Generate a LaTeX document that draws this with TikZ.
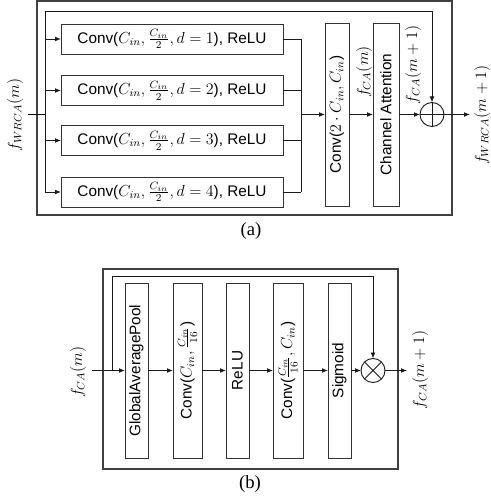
\documentclass[tikz,border=0pt]{standalone}
\usepackage[no-math]{fontspec}
\setmainfont{Liberation Serif}
\newfontfamily\boxfont{Liberation Sans}
\usetikzlibrary{arrows.meta}
\begin{document}
\begin{tikzpicture}[x=0.75pt,y=-0.75pt,
  every node/.style={inner sep=0pt,outer sep=0pt},
  ln/.style={line width=0.65pt,draw=black!90},
  arr/.style={ln,-{Latex[length=4.5pt,width=3.6pt]}},
  frame/.style={line width=0.8pt,draw=black!75},
  blk/.style={draw=black!80,line width=0.7pt,font=\boxfont\fontsize{11.5}{13}\selectfont},
  hblk/.style={blk,minimum width=0.75pt*222,minimum height=0.75pt*30},
  sig/.style={font=\fontsize{12}{14}\selectfont,rotate=90},
  opnode/.style={circle,draw=black!90,line width=0.7pt,minimum size=0.75pt*24},
  subcap/.style={font=\fontsize{14}{16}\selectfont}
]
\useasboundingbox (0,0) rectangle (491,502);

% ---------------- (a) ----------------
\draw[frame] (37,1) rectangle (452,215);

\node[hblk] (c1) at (172,39)    {Conv($C_{in}, \frac{C_{in}}{2}, d=1$), ReLU};
\node[hblk] (c2) at (172,90.5)  {Conv($C_{in}, \frac{C_{in}}{2}, d=2$), ReLU};
\node[hblk] (c3) at (172,140.5) {Conv($C_{in}, \frac{C_{in}}{2}, d=3$), ReLU};
\node[hblk] (c4) at (172,192)   {Conv($C_{in}, \frac{C_{in}}{2}, d=4$), ReLU};

\node[blk,minimum width=0.75pt*24,minimum height=0.75pt*183] (cv) at (337,114.5)
  {\rotatebox{90}{Conv($2\cdot C_{in}, C_{in}$)}};
\node[blk,minimum width=0.75pt*26,minimum height=0.75pt*183] (ca) at (386,114.5)
  {\rotatebox{90}{Channel Attention}};
\node[opnode] (sum) at (432,114.5) {};
\draw[ln] (sum.north) -- (sum.south) (sum.west) -- (sum.east);

\coordinate (inA) at (28,114.5);
\coordinate (ja) at (45,114.5);
\coordinate (topA) at (45,11);
\coordinate (jb) at (301,114.5);
\coordinate (outA) at (470,114.5);

\node[sig] (lin) at (15,115) {$f_{WRCA}(m)$};
\node[sig] (lout) at (482,115) {$f_{WRCA}(m+1)$};
\node[sig] (lca) at (364,72) {$f_{CA}(m)$};
\node[sig] (lca1) at (413,65) {$f_{CA}(m+1)$};

\draw[line width=1.4pt] (inA) -- (ja);
\draw[ln] (ja |- c1.west) -- (ja |- c4.west);
\foreach \b in {c1,c2,c3,c4} \draw[arr] (ja |- \b.west) -- (\b.west);
\foreach \b in {c1,c2,c3,c4} \draw[ln] (\b.east) -- (jb |- \b.east);
\draw[ln] (jb |- c1.east) -- (jb |- c4.east);
\draw[arr] (jb) -- (cv.west);
\draw[arr] (cv.east) -- (ca.west);
\draw[arr] (ca.east) -- (sum.west);
\draw[arr] (sum.east) -- (outA);
\draw[arr] (ja) -- (topA) -- (topA -| sum.north) -- (sum.north);

\node[subcap] (capa) at (251,231) {(a)};

% ---------------- (b) ----------------
\draw[frame] (103,269) rectangle (398,469);

\node[blk,minimum width=0.75pt*23,minimum height=0.75pt*175] (gap) at (136.5,370.5)
  {\rotatebox{90}{GlobalAveragePool}};
\node[blk,minimum width=0.75pt*29,minimum height=0.75pt*175] (cd) at (187.5,370.5)
  {\rotatebox{90}{Conv($C_{in}, \frac{C_{in}}{16}$)}};
\node[blk,minimum width=0.75pt*23,minimum height=0.75pt*175] (rl) at (237.5,370.5)
  {\rotatebox{90}{ReLU}};
\node[blk,minimum width=0.75pt*30,minimum height=0.75pt*175] (cu) at (288,370.5)
  {\rotatebox{90}{Conv($\frac{C_{in}}{16}, C_{in}$)}};
\node[blk,minimum width=0.75pt*23,minimum height=0.75pt*175] (sg) at (339.5,370.5)
  {\rotatebox{90}{Sigmoid}};
\node[opnode] (mul) at (373,370.5) {};
\draw[ln] (mul.north west) -- (mul.south east) (mul.north east) -- (mul.south west);

\coordinate (inB) at (92,370.5);
\coordinate (jc) at (112,370.5);
\coordinate (topB) at (112,276);
\coordinate (outB) at (407,370.5);

\node[sig] (lbin) at (78,372) {$f_{CA}(m)$};
\node[sig] (lbout) at (420,370) {$f_{CA}(m+1)$};

\draw[arr] (inB) -- (gap.west);
\draw[arr] (gap.east) -- (cd.west);
\draw[arr] (cd.east) -- (rl.west);
\draw[arr] (rl.east) -- (cu.west);
\draw[arr] (cu.east) -- (sg.west);
\draw[arr] (sg.east) -- (mul.west);
\draw[arr] (mul.east) -- (outB);
\draw[arr] (jc) -- (topB) -- (topB -| mul.north) -- (mul.north);

\node[subcap] (capb) at (250,484) {(b)};
\end{tikzpicture}
\end{document}
